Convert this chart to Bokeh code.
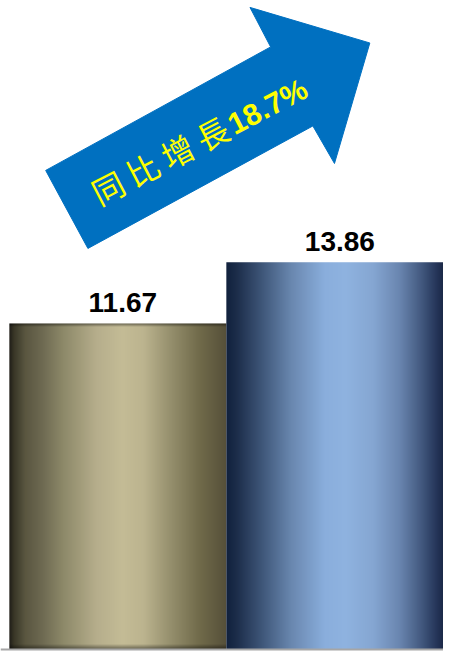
import numpy as np
from bokeh.plotting import figure
from bokeh.models import Range1d, ColumnDataSource, Span
from bokeh.core.properties import value
from bokeh.embed import file_html
from bokeh.resources import INLINE

# ---------------- data ----------------
categories = ["上年同期", "本期"]
values = [11.67, 13.86]
value_labels = ["11.67", "13.86"]
growth_words = "同 比 增 長"
growth_pct = "18.7%"

# ---------------- layout helpers ----------------
W, H = 443, 651
KX, KY = W / 451.0, H / 659.0     # reference-pixel -> figure-pixel scale
PX_X = 217.0                      # pixels per bar slot
PX_Y = 27.94                      # pixels per unit of value
x0 = 0.5 - 9 * KX / PX_X
y0 = -2.0 / PX_Y

def sx(rx):  # reference x pixel -> data x
    return x0 + rx * KX / PX_X

def sy(ry):  # reference y pixel -> data y
    return y0 + (H - ry * KY) / PX_Y

p = figure(width=W, height=H, output_backend="svg", toolbar_location=None,
           x_range=Range1d(x0, x0 + W / PX_X), y_range=Range1d(y0, y0 + H / PX_Y),
           min_border=0, min_border_left=0, min_border_right=0,
           min_border_top=0, min_border_bottom=0)
p.axis.visible = False
p.grid.visible = False
p.outline_line_color = None
p.background_fill_color = "white"
p.border_fill_color = "white"

# ---------------- gradient bars ----------------
def hex2rgb(h):
    h = h.lstrip("#")
    return [int(h[i:i + 2], 16) for i in (0, 2, 4)]

stops = [
    [(0.00, "#22201a"), (0.02, "#3a3828"), (0.07, "#5a5640"), (0.15, "#6e6a52"),
     (0.25, "#8e8a6a"), (0.40, "#b6ae8c"), (0.52, "#c4bc96"), (0.62, "#bcb48f"),
     (0.75, "#948e6c"), (0.88, "#706a4a"), (1.00, "#57503a")],
    [(0.00, "#12223e"), (0.05, "#1e2f4c"), (0.15, "#3b5274"), (0.30, "#6a88b0"),
     (0.45, "#8aaedc"), (0.55, "#8fb3e0"), (0.68, "#85a6d2"), (0.80, "#6a86b0"),
     (0.90, "#445a80"), (0.97, "#26365a"), (1.00, "#1c2a48")],
]
edge_shade = [True, False]

images, xs_img = [], []
for i, v in enumerate(values):
    ncol = int(PX_X)
    nrow = int(round(v * PX_Y))
    pos = np.linspace(0, 1, ncol)
    sp = [s[0] for s in stops[i]]
    cols = np.array([hex2rgb(s[1]) for s in stops[i]], dtype=float)
    row = np.stack([np.interp(pos, sp, cols[:, k]) for k in range(3)], axis=1)
    img = np.repeat(row[None, :, :], nrow, axis=0)
    if edge_shade[i]:
        f = np.ones(nrow)
        f[:6] = np.linspace(0.55, 1.0, 6)       # bottom rows (row 0 = bottom)
        f[-4:] = np.linspace(1.0, 0.6, 4)       # top rows
        img = img * f[:, None, None]
    rgba = np.zeros((nrow, ncol), dtype=np.uint32)
    view = rgba.view(dtype=np.uint8).reshape((nrow, ncol, 4))
    view[:, :, 0] = img[:, :, 0].astype(np.uint8)
    view[:, :, 1] = img[:, :, 1].astype(np.uint8)
    view[:, :, 2] = img[:, :, 2].astype(np.uint8)
    view[:, :, 3] = 255
    images.append(rgba)
    xs_img.append(i + 0.5)

p.image_rgba(image=images, x=xs_img, y=[0] * len(values), dw=[1] * len(values), dh=values)

# baseline
p.add_layout(Span(location=0, dimension="width", line_color="#a6a6a6", line_width=2))

# value labels
lab = ColumnDataSource(dict(x=[i + 1 for i in range(len(values))], y=values, t=value_labels))
p.text(x="x", y="y", text="t", source=lab, text_align="center", text_baseline="alphabetic",
       x_offset=5, y_offset=-21, text_font=value("Liberation Sans"), text_font_style="bold",
       text_font_size="28px", text_color="black")

# ---------------- growth arrow ----------------
arrow_px = [(46, 172), (89, 251), (318, 127), (340, 165), (376, 43), (254, 7), (275, 47)]
p.patch(x=[sx(a) for a, b in arrow_px], y=[sy(b) for a, b in arrow_px],
        fill_color="#0070c0", line_color="#0070c0", line_width=1)

ang = np.deg2rad(27.5)
p.text(x=[sx(162)], y=[sy(161)], text=[growth_words], angle=ang,
       text_align="center", text_baseline="middle", text_font=value("Noto Sans CJK TC"),
       text_font_style="normal", text_font_size="32px", text_color="#ffff00")
p.text(x=[sx(272)], y=[sy(107)], text=[growth_pct], angle=ang,
       text_align="center", text_baseline="middle", text_font=value("Liberation Sans"),
       text_font_style="bold", text_font_size="30px", text_color="#ffff00")

open("out.html", "w").write(file_html(p, INLINE))
